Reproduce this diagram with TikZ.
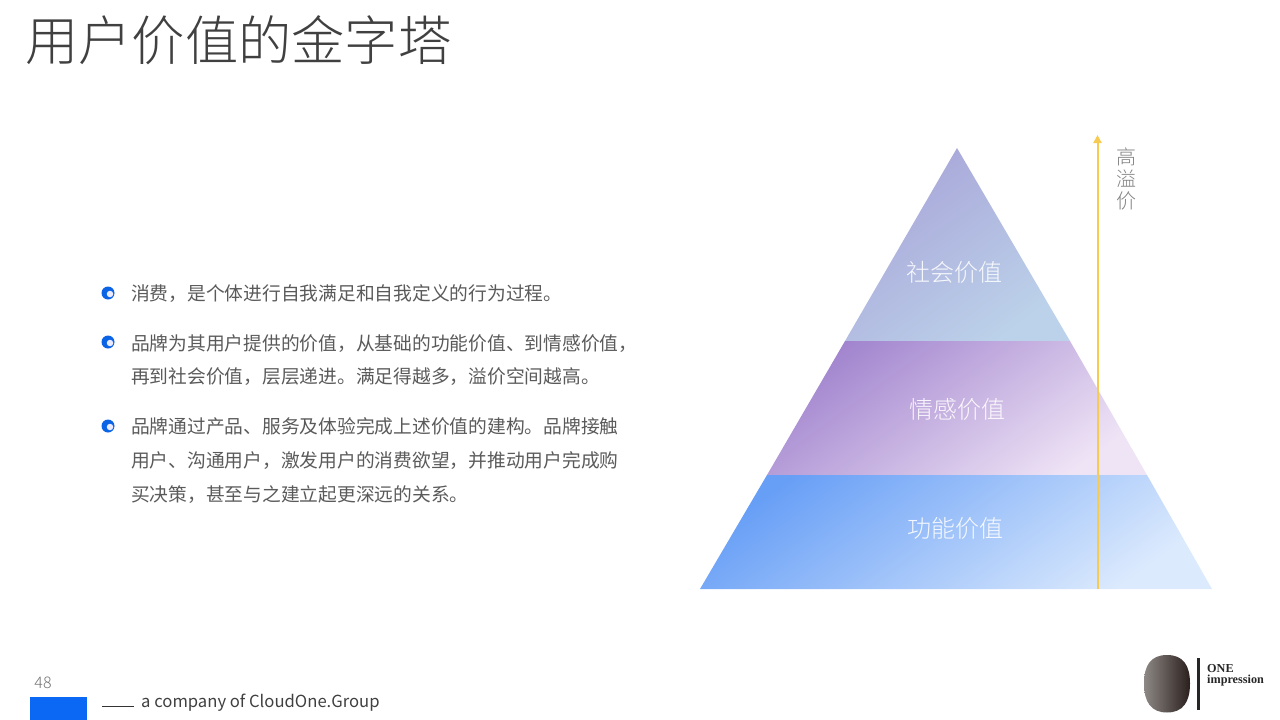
\documentclass[tikz,border=0pt]{standalone}
\usepackage{fontspec}
\usepackage{xcolor}
\setmainfont{Noto Sans CJK SC}
\newfontfamily\lightcjk{Noto Sans CJK SC Light}
\newfontfamily\logofont{Liberation Serif}
\usetikzlibrary{positioning}
\usetikzlibrary{arrows.meta}

\definecolor{bulletblue}{HTML}{0B63E5}
\definecolor{footblue}{HTML}{0A68F5}
\definecolor{bodygray}{HTML}{5A5A5A}
\definecolor{arrowgold}{HTML}{F6CB50}
\definecolor{socialtop}{HTML}{A8A5D8}
\definecolor{socialend}{HTML}{BCD2EA}
\definecolor{emotiontop}{HTML}{A184CE}
\definecolor{emotionend}{HTML}{EFE4F6}
\definecolor{functiontop}{HTML}{689FF6}
\definecolor{functionend}{HTML}{DCEAFD}
\definecolor{logolight}{HTML}{8E8986}
\definecolor{logodark}{HTML}{2A1F1C}

\tikzset{
	band/.style={shade,top color=#1top,bottom color=#1end,shading angle=36},
	bandtext/.style={text=white,opacity=0.9,font=\lightcjk\fontsize{24}{24}\selectfont},
	bodytext/.style={anchor=west,inner sep=0pt,align=left,text=bodygray,font=\fontsize{18.75}{33.6}\selectfont},
	bulletdot/.style={circle,fill=bulletblue,minimum size=13pt,inner sep=0pt},
	bulletcore/.style={circle,fill=blue!8,minimum size=6.5pt,inner sep=0pt}
}

\begin{document}
\begin{tikzpicture}[x=1pt,y=-1pt]
		\useasboundingbox (0,0) rectangle (1280,720);

		\node (title) [anchor=west,inner sep=0pt,text=black!75,font=\lightcjk\fontsize{53.3}{54}\selectfont] at (25,40) {用户价值的金字塔};

		\node[bulletdot] (b1) at (108,293) {};
		\node[bulletcore] at (110,294) {};
		\node[bulletdot] (b2) at (108,342) {};
		\node[bulletcore] at (110,343) {};
		\node[bulletdot] (b3) at (108,426) {};
		\node[bulletcore] at (110,427) {};

		\node[bodytext] (t1) at (131,294) {消费，是个体进行自我满足和自我定义的行为过程。};
		\node[bodytext] (t2) at (131,360) {品牌为其用户提供的价值，从基础的功能价值、到情感价值，\\再到社会价值，层层递进。满足得越多，溢价空间越高。};
		\node[bodytext] (t3) at (131,460.5) {品牌通过产品、服务及体验完成上述价值的建构。品牌接触\\用户、沟通用户，激发用户的消费欲望，并推动用户完成购\\买决策，甚至与之建立起更深远的关系。};

		% pyramid, top to bottom
		\path[band=social] (957,148) -- (1070,341) -- (845,341) -- cycle;
		\path[band=emotion] (845,341) -- (1070,341) -- (1147,475) -- (767,475) -- cycle;
		\path[band=function] (767,475) -- (1147,475) -- (1212,589) -- (700,589) -- cycle;

		\node[bandtext] (social) at (954,272) {社会价值};
		\node[bandtext] (emotion) at (957,409) {情感价值};
		\node[bandtext] (function) at (955,528) {功能价值};

		\coordinate (low) at (1097.5,589);
		\coordinate (high) at (1097.5,135);
		\draw[-{Triangle[length=8pt,width=8pt]},draw=arrowgold,line width=2pt] (low) -- (high);

		\node (premium) [inner sep=0pt,align=center,text=black!50,font=\lightcjk\fontsize{20}{22.2}\selectfont] at (1126,179) {高\\溢\\价};

		% footer
		\node (page) [inner sep=0pt,text=black!55,font=\lightcjk\fontsize{16}{16}\selectfont] at (43,682.5) {48};
		\fill[footblue] (30,697) rectangle (87,720);
		\coordinate (rulea) at (102,706.5);
		\coordinate (ruleb) at (134,706.5);
		\draw[black!80,line width=1pt] (rulea) -- (ruleb);
		\node (company) [anchor=west,inner sep=0pt,text=black!75,font=\fontsize{16.65}{17}\selectfont] at (141,703) {a company of CloudOne.Group};

		% logo
		\shade[left color=logolight,right color=logodark] (1144,683.5) .. controls (1144,665) and (1151,655) .. (1167,655) .. controls (1183,655) and (1190,665) .. (1190,683.5) .. controls (1190,702) and (1183,712.5) .. (1167,712.5) .. controls (1151,712.5) and (1144,702) .. (1144,683.5) -- cycle;
		\fill[black!85] (1197,658) rectangle (1200,710);
		\node (logotext) [anchor=west,inner sep=0pt,align=left,text=black!85,font=\logofont\bfseries\fontsize{12.2}{11.3}\selectfont] at (1207,675.5) {ONE\\impression};
	\end{tikzpicture}
\end{document}
